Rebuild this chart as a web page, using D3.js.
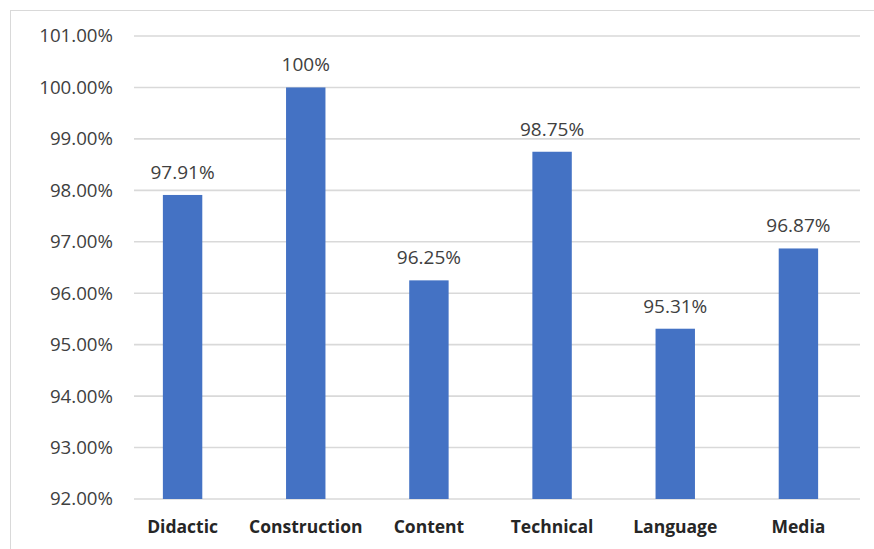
<!DOCTYPE html>
<html>
<head>
<meta charset="utf-8">
<script src="https://cdn.jsdelivr.net/npm/d3@7"></script>
<style>
  body { margin: 0; background: #fff; }
  svg { display: block; }
</style>
</head>
<body>
<svg id="chart"></svg>
<script>
var categories = ["Didactic", "Construction", "Content", "Technical", "Language", "Media"];
var values = [97.91, 100, 96.25, 98.75, 95.31, 96.87];
var valueLabels = ["97.91%", "100%", "96.25%", "98.75%", "95.31%", "96.87%"];
var yTicks = [92, 93, 94, 95, 96, 97, 98, 99, 100, 101];

var width = 874, height = 549;
var svg = d3.select("#chart").attr("width", width).attr("height", height);

// outer frame (only top and left edges show in the crop)
svg.append("rect")
  .attr("x", 10.5).attr("y", 10.5)
  .attr("width", 900).attr("height", 600)
  .attr("fill", "none").attr("stroke", "#d9d9d9").attr("stroke-width", 1);

var x = d3.scaleBand()
  .domain(categories)
  .range([121, 860])
  .paddingInner(0.68)
  .paddingOuter(0.34);

var y = d3.scaleLinear()
  .domain([92, 101])
  .range([499, 36]);

// gridlines
svg.append("g").selectAll("line")
  .data(yTicks)
  .enter().append("line")
    .attr("x1", 134).attr("x2", 860)
    .attr("y1", d => y(d)).attr("y2", d => y(d))
    .attr("stroke", "#d9d9d9").attr("stroke-width", 1.6);

// y axis labels
var yAxis = d3.axisLeft(y)
  .tickValues(yTicks)
  .tickSize(0)
  .tickPadding(0)
  .tickFormat(d => d.toFixed(2) + "%");

svg.append("g")
  .attr("transform", "translate(113,0)")
  .call(yAxis)
  .call(g => g.select(".domain").remove())
  .selectAll("text")
    .attr("font-family", "'Open Sans', sans-serif")
    .attr("font-size", 18.7)
    .attr("fill", "#404040");

// bars
svg.append("g").selectAll("rect")
  .data(values)
  .enter().append("rect")
    .attr("x", (d, i) => x(categories[i]))
    .attr("y", d => y(d))
    .attr("width", x.bandwidth())
    .attr("height", d => y(92) - y(d))
    .attr("fill", "#4472c4");

// value labels
svg.append("g").selectAll("text")
  .data(values)
  .enter().append("text")
    .attr("x", (d, i) => x(categories[i]) + x.bandwidth() / 2)
    .attr("y", d => y(d) - 16)
    .attr("text-anchor", "middle")
    .attr("font-family", "'Open Sans', sans-serif")
    .attr("font-size", 19)
    .attr("fill", "#404040")
    .text((d, i) => valueLabels[i]);

// x axis labels
var xAxis = d3.axisBottom(x).tickSize(0).tickPadding(0);
svg.append("g")
  .attr("transform", "translate(0,499)")
  .call(xAxis)
  .call(g => g.select(".domain").remove())
  .selectAll("text")
    .attr("dy", null)
    .attr("y", 34)
    .attr("font-family", "'Open Sans', sans-serif")
    .attr("font-weight", "bold")
    .attr("font-size", 17.5)
    .attr("fill", "#262626");
</script>
</body>
</html>
